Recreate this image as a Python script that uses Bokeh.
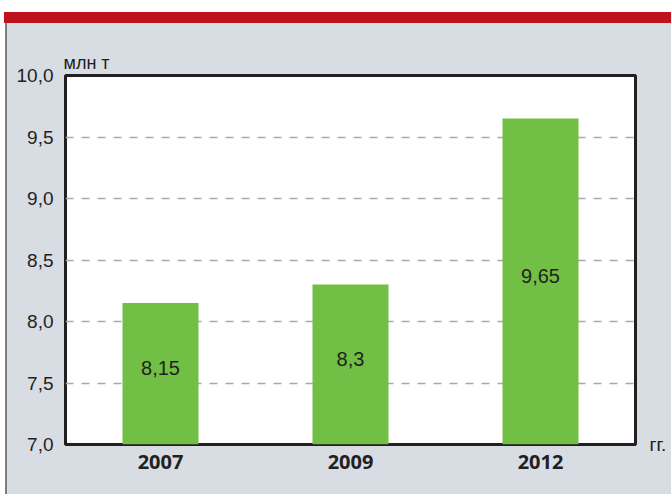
from bokeh.plotting import figure
from bokeh.models import (FactorRange, Range1d, FixedTicker, CustomJSTickFormatter,
                          LinearAxis, ColumnDataSource)
from bokeh.core.properties import value
from bokeh.embed import file_html
from bokeh.resources import INLINE

# ---- data ----
years = ["2007", "2009", "2012"]
volumes = [8.15, 8.3, 9.65]
volume_labels = ["8,15", "8,3", "9,65"]
y_ticks = [7.0, 7.5, 8.0, 8.5, 9.0, 9.5, 10.0]
y_tick_labels = ["7,0", "7,5", "8,0", "8,5", "9,0", "9,5", "10,0"]
y_unit = "млн т"
x_unit = "гг."

BG = "#d8dce3"
RED = "#be121e"
GREEN = "#71bf45"
DARK = "#231f20"
GRID = "#a7a9ac"
RULE = "#7d7f82"

W, H = 671, 494
y_min, y_max = y_ticks[0], y_ticks[-1]

p = figure(width=W, height=H, output_backend="svg", toolbar_location=None,
           x_range=FactorRange(factors=years, range_padding=0),
           y_range=Range1d(y_min, y_max),
           min_border_left=65, min_border_right=36, min_border_top=75, min_border_bottom=50)
p.border_fill_alpha = 0
p.background_fill_color = "white"
p.outline_line_color = DARK
p.outline_line_width = 3
p.styles = {
    "background": (
        f"linear-gradient(to right, #ffffff 0 5px, {RULE} 5px 7px, {BG} 7px) 0 23px / 100% {H - 23}px no-repeat, "
        f"linear-gradient(to right, #ffffff 0 4px, {RED} 4px) 0 12px / 100% 11px no-repeat, "
        "#ffffff"
    )
}

mid = [y_min + (v - y_min) / 2 for v in volumes]
src = ColumnDataSource(dict(x=years, top=volumes, lab=volume_labels, mid=mid))
p.vbar(x="x", top="top", bottom=y_min, width=0.4, source=src,
       fill_color=GREEN, line_color=None)
p.text(x="x", y="mid", text="lab", source=src, text_align="center",
       text_baseline="middle", y_offset=-6, text_color=DARK,
       text_font=value("Liberation Sans"), text_font_size="20px")

# grid
p.xgrid.visible = False
p.ygrid.grid_line_color = GRID
p.ygrid.grid_line_dash = "8 8"
p.ygrid.grid_line_width = 1.5
p.ygrid.ticker = FixedTicker(ticks=y_ticks)

# y axis
ya = p.yaxis[0]
ya.ticker = FixedTicker(ticks=y_ticks)
ya.formatter = CustomJSTickFormatter(args=dict(t=y_ticks, l=y_tick_labels), code="""
let best = 0;
for (let i = 0; i < t.length; i++) { if (Math.abs(t[i] - tick) < Math.abs(t[best] - tick)) best = i; }
return l[best];
""")
ya.axis_line_color = None
ya.major_tick_line_color = None
ya.minor_tick_line_color = None
ya.major_label_standoff = 6
ya.major_label_text_font = "Liberation Sans"
ya.major_label_text_font_size = "19px"
ya.major_label_text_color = DARK

# x axis
xa = p.xaxis[0]
xa.axis_line_color = None
xa.major_tick_line_color = None
xa.minor_tick_line_color = None
xa.major_label_standoff = 4
xa.major_label_text_font = "Open Sans"
xa.major_label_text_font_style = "bold"
xa.major_label_text_font_size = "20px"
xa.major_label_text_color = DARK

# unit of x: a right-side axis with a single labelled tick at the baseline
ra = LinearAxis(ticker=FixedTicker(ticks=[y_min]),
                formatter=CustomJSTickFormatter(args=dict(u=x_unit), code="return u;"))
ra.axis_line_color = None
ra.major_tick_line_color = None
ra.minor_tick_line_color = None
ra.major_label_standoff = 8
ra.major_label_text_font = "Liberation Sans"
ra.major_label_text_font_size = "19px"
ra.major_label_text_color = DARK
ra.major_label_text_baseline = "alphabetic"
p.add_layout(ra, "right")

# unit of y: title above the frame
p.title.text = y_unit
p.title.align = "left"
p.title.offset = -2
p.title.standoff = 5
p.title.text_font = "Liberation Sans"
p.title.text_font_style = "normal"
p.title.text_font_size = "18px"
p.title.text_color = DARK

open("out.html", "w").write(file_html(p, INLINE))
